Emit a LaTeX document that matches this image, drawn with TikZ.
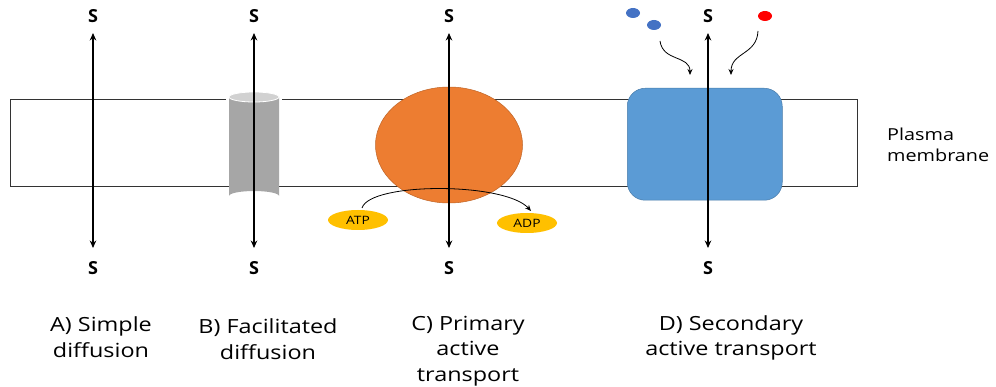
\documentclass[tikz,border=0pt]{standalone}
\usepackage{fontspec}
\setmainfont{Open Sans}
\newfontfamily\wide[FakeStretch=1.2]{Open Sans}
\usetikzlibrary{arrows.meta,shapes.geometric}
\definecolor{orng}{HTML}{ED7D31}
\definecolor{blu}{HTML}{5B9BD5}
\definecolor{gld}{HTML}{FFC000}
\definecolor{dotblue}{HTML}{4472C4}
\begin{document}
\begin{tikzpicture}[x=1pt,y=-1pt,
  sflow/.style={line width=2.2pt,{Stealth[length=7.5pt,width=6.5pt]}-{Stealth[length=7.5pt,width=6.5pt]}},
  slabel/.style={font=\bfseries\fontsize{18}{18}\selectfont,inner sep=0pt},
  captxt/.style={font=\wide\fontsize{19.5}{25.5}\selectfont,align=center,inner sep=0pt},
  pill/.style={ellipse,fill=gld,minimum width=60pt,minimum height=20pt,inner sep=0pt,font=\wide\fontsize{11.5}{11.5}\selectfont},
  thinarrow/.style={line width=0.8pt,-{Stealth[length=6pt,width=5pt]}}]
\useasboundingbox (0,0) rectangle (996,387);
% membrane
\node[draw=black!80,line width=0.7pt,minimum width=847pt,minimum height=87pt,inner sep=0pt,anchor=north west] (mem) at (10,99) {};
\node[anchor=west,font=\wide\fontsize{16.5}{21}\selectfont,align=left,inner sep=0pt] (pm) at (887,145) {Plasma\\membrane};
% B channel cylinder
\fill[white] (226,99.5) rectangle (282,185.5);
\fill[black!35] (229,97) -- (229,196) arc[start angle=180,end angle=360,x radius=25,y radius=5] -- (279,97) -- cycle;
\draw[white,line width=0.8pt,fill=black!18] (254,97) ellipse[x radius=25,y radius=5];
% C pump
\node[ellipse,fill=orng,draw=orng!80!black,line width=0.5pt,minimum width=147pt,minimum height=116pt] (pump) at (449,145) {};
% D cotransporter
\node[rounded corners=18pt,fill=blu,draw=blu!80!black,line width=0.5pt,minimum width=155pt,minimum height=112pt,anchor=north west] (cot) at (627,88) {};
% S labels
\foreach \n/\x in {a/93,b/254,c/449,d/708}{
  \node[slabel] (top\n) at (\x,16) {S};
  \node[slabel] (bot\n) at (\x,268) {S};
  \coordinate (t\n) at (\x,33);
  \coordinate (b\n) at (\x,248);
  \draw[sflow] (b\n) -- (t\n);
}
% ATP / ADP
\node[pill] (atp) at (358,220) {ATP};
\node[pill] (adp) at (527,223) {ADP};
\draw[thinarrow] (362,208) .. controls (370,182) and (505,182) .. (531,211);
% dots
\fill[dotblue] (633,13) ellipse[x radius=7,y radius=5];
\fill[dotblue] (654,25) ellipse[x radius=7,y radius=5];
\fill[red] (765,16) ellipse[x radius=7,y radius=5];
\coordinate (l1) at (660,41);
\coordinate (l2) at (690,75);
\coordinate (r1) at (758,31);
\coordinate (r2) at (731,75);
\draw[thinarrow] (l1) .. controls (663,62) and (690,55) .. (l2);
\draw[thinarrow] (r1) .. controls (757,55) and (731,52) .. (r2);
% captions
\node[captxt] (ca) at (101,337) {A) Simple\\diffusion};
\node[captxt] (cb) at (268,339) {B) Facilitated\\diffusion};
\node[captxt] (cc) at (468,351) {C) Primary\\active\\transport};
\node[captxt] (cd) at (731,338) {D) Secondary\\active transport};
\end{tikzpicture}
\end{document}
